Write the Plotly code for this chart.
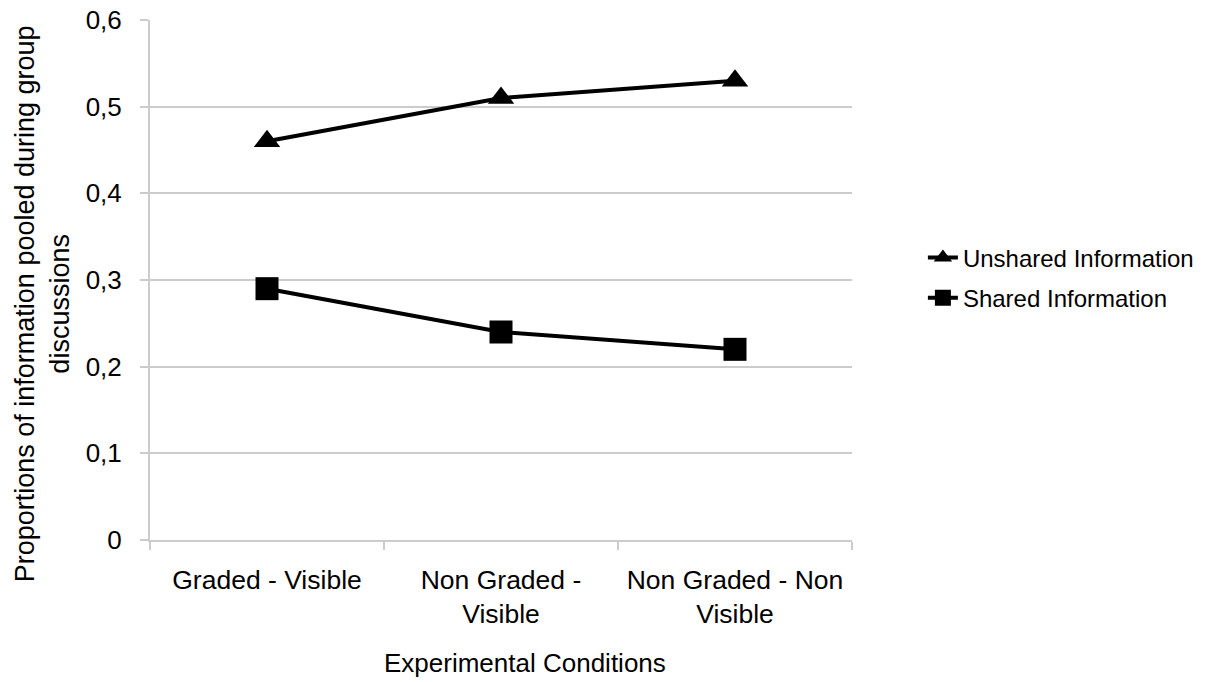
import plotly.graph_objects as go

categories = ["Graded - Visible", "Non Graded -<br>Visible", "Non Graded - Non<br>Visible"]
unshared = [0.46, 0.51, 0.53]
shared = [0.29, 0.24, 0.22]
y_ticks = [0, 0.1, 0.2, 0.3, 0.4, 0.5, 0.6]
y_tick_labels = ["0", "0,1", "0,2", "0,3", "0,4", "0,5", "0,6"]
x_title = "Experimental Conditions"
y_title = "Proportions of information pooled during group<br>discussions"

fig = go.Figure()
fig.add_trace(go.Scatter(
    x=categories, y=unshared, name="Unshared Information",
    mode="lines+markers", legendgroup="a",
    line=dict(color="black", width=4),
    marker=dict(symbol="triangle-up", size=23, color="black"),
))
fig.add_trace(go.Scatter(
    x=categories, y=shared, name="Shared Information",
    mode="lines+markers", legendgroup="b",
    line=dict(color="black", width=4),
    marker=dict(symbol="square", size=23, color="black"),
))

font_family = "Liberation Sans, Arial, sans-serif"
grey = "#cccccc"
fig.update_layout(
    width=1198, height=674,
    margin=dict(l=142, r=354, t=12, b=142, autoexpand=False),
    paper_bgcolor="white", plot_bgcolor="white",
    font=dict(family=font_family, size=26, color="black"),
    showlegend=True,
    legend=dict(x=1.101, y=0.504, xanchor="left", yanchor="middle",
                font=dict(size=24), traceorder="grouped", tracegroupgap=6,
                bgcolor="rgba(0,0,0,0)"),
    xaxis=dict(
        type="category", range=[-0.5, 2.5], automargin=False,
        tickson="boundaries", ticks="outside", ticklen=8, tickcolor=grey, tickwidth=2,
        showgrid=False, showline=True, linecolor=grey, linewidth=2,
        tickfont=dict(size=26.5), zeroline=False, ticklabelstandoff=15,
    ),
    yaxis=dict(
        range=[0, 0.6], tickvals=y_ticks, ticktext=y_tick_labels, automargin=False,
        ticks="outside", ticklen=8, tickcolor=grey, tickwidth=2,
        showgrid=True, gridcolor=grey, gridwidth=2,
        showline=True, linecolor=grey, linewidth=2, zeroline=False,
        tickfont=dict(size=26), ticklabelstandoff=13, ticklabeloverflow="allow",
    ),
    annotations=[
        dict(text=x_title, xref="paper", yref="paper", x=0.5335, y=-0.2365,
             xanchor="center", yanchor="middle", showarrow=False,
             font=dict(size=26)),
        dict(text=y_title, xref="paper", yref="paper", x=-0.1535, y=0.4538,
             xanchor="center", yanchor="middle", showarrow=False, textangle=-90,
             font=dict(size=27)),
    ],
)
fig.write_html("out.html")
